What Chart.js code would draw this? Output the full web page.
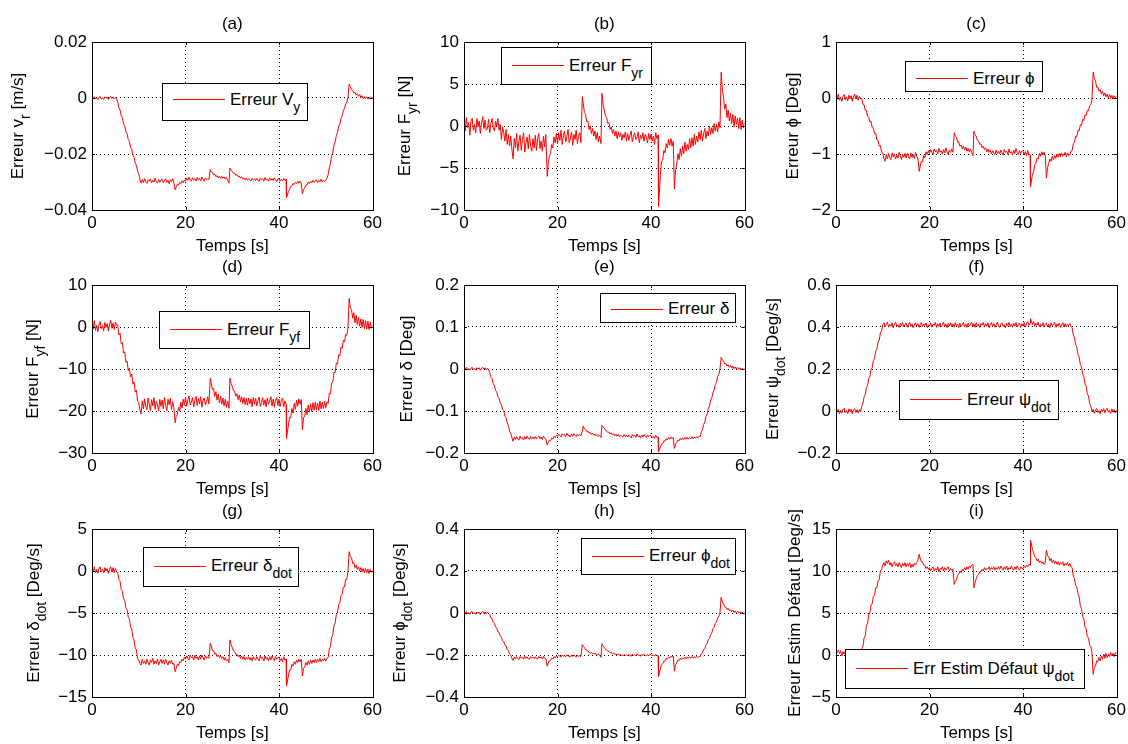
<!DOCTYPE html>
<html><head><meta charset="utf-8">
<script src="https://cdn.jsdelivr.net/npm/chart.js@4.4.1/dist/chart.umd.min.js"></script>
<style>
body{margin:0;background:#fff;width:1128px;height:744px;position:relative;overflow:hidden;font-family:"Liberation Sans",Arial,sans-serif;color:#000;}
canvas{position:absolute;}
.yt{position:absolute;white-space:nowrap;font-size:17px;line-height:20px;transform:translate(-50%,-50%) rotate(-90deg);z-index:3;}
.lg{position:absolute;background:#fff;border:1px solid #000;box-sizing:border-box;z-index:4;}
.lg .ln{position:absolute;left:10px;width:52px;height:0;border-top:1px solid #f00;}
.lg .tx{position:absolute;left:67px;white-space:nowrap;font-size:17px;line-height:20px;}
sub{font-size:14px;line-height:0;vertical-align:-7px;}
</style>
</head><body>

<div class="yt" style="left:18px;top:126px">Erreur v<sub>r</sub> [m/s]</div>
<div class="yt" style="left:405px;top:126px">Erreur F<sub>yr</sub> [N]</div>
<div class="yt" style="left:793px;top:126px">Erreur ϕ [Deg]</div>
<div class="yt" style="left:33px;top:369px">Erreur F<sub>yf</sub> [N]</div>
<div class="yt" style="left:407px;top:369px">Erreur δ [Deg]</div>
<div class="yt" style="left:773px;top:369px">Erreur ψ<sub>dot</sub> [Deg/s]</div>
<div class="yt" style="left:34px;top:613px">Erreur δ<sub>dot</sub> [Deg/s]</div>
<div class="yt" style="left:400px;top:613px">Erreur ϕ<sub>dot</sub> [Deg/s]</div>
<div class="yt" style="left:795px;top:613px">Erreur Estim Défaut [Deg/s]</div>

<div class="lg" style="left:162px;top:83px;width:146px;height:38px"><div class="ln" style="top:14.8px"></div><div class="tx" style="top:5.5px">Erreur V<sub>y</sub></div></div>
<div class="lg" style="left:501px;top:47px;width:151px;height:38px"><div class="ln" style="top:17.2px"></div><div class="tx" style="top:7.9px">Erreur F<sub>yr</sub></div></div>
<div class="lg" style="left:905px;top:61px;width:138px;height:31px"><div class="ln" style="top:15.8px"></div><div class="tx" style="top:6.5px">Erreur ϕ</div></div>
<div class="lg" style="left:159px;top:311px;width:151px;height:38px"><div class="ln" style="top:16.8px"></div><div class="tx" style="top:7.5px">Erreur F<sub>yf</sub></div></div>
<div class="lg" style="left:600px;top:293px;width:136px;height:30px"><div class="ln" style="top:14.5px"></div><div class="tx" style="top:5.2px">Erreur δ</div></div>
<div class="lg" style="left:899px;top:380px;width:160px;height:40px"><div class="ln" style="top:17.8px"></div><div class="tx" style="top:8.5px">Erreur ψ<sub>dot</sub></div></div>
<div class="lg" style="left:143px;top:547px;width:156px;height:40px"><div class="ln" style="top:17.5px"></div><div class="tx" style="top:8.2px">Erreur δ<sub>dot</sub></div></div>
<div class="lg" style="left:581px;top:538px;width:155px;height:37px"><div class="ln" style="top:16.5px"></div><div class="tx" style="top:7.2px">Erreur ϕ<sub>dot</sub></div></div>
<div class="lg" style="left:845px;top:649px;width:240px;height:40px"><div class="ln" style="top:18.2px"></div><div class="tx" style="top:8.9px">Err Estim Défaut ψ<sub>dot</sub></div></div>

<script>
// ---------------- DATA ----------------
const time = [
0,0.25,0.5,0.75,1,1.25,1.5,1.75,2,2.25,2.5,2.75,3,3.25,3.5,3.75,4,4.25,4.5,4.75,
5,5.25,5.5,5.75,6,6.25,6.5,6.75,7,7.25,7.5,7.75,8,8.25,8.5,8.75,9,9.25,9.5,9.75,
10,10.25,10.5,10.75,11,11.25,11.5,11.75,12,12.25,12.5,12.75,13,13.25,13.5,13.75,14,14.25,14.5,14.75,
15,15.25,15.5,15.75,16,16.25,16.5,16.75,17,17.25,17.5,17.8,18,18.25,18.5,18.75,19,19.25,19.5,19.75,
20,20.25,20.5,20.75,21,21.25,21.5,21.75,22,22.25,22.5,22.75,23,23.25,23.5,23.75,24,24.25,24.5,24.75,
25,25.3,25.5,25.75,26,26.25,26.5,26.75,27,27.25,27.5,27.75,28,28.25,28.5,28.75,29,29.3,29.5,29.75,
30,30.25,30.5,30.75,31,31.25,31.5,31.75,32,32.25,32.5,32.75,33,33.25,33.5,33.75,34,34.25,34.5,34.75,
35,35.25,35.5,35.75,36,36.25,36.5,36.75,37,37.25,37.5,37.75,38,38.25,38.5,38.75,39,39.25,39.5,39.75,
40,40.25,40.5,40.75,41,41.25,41.5,41.6,42,42.25,42.5,42.75,43,43.25,43.5,43.75,44,44.25,44.5,44.75,
45,45.25,45.5,45.75,46,46.25,46.5,46.75,47,47.25,47.5,47.75,48,48.25,48.5,48.75,49,49.25,49.5,49.75,
50,50.25,50.5,50.75,51,51.25,51.5,51.75,52,52.25,52.5,52.75,53,53.25,53.5,53.75,54,54.25,54.5,54.75,
55,55.25,55.5,55.75,56,56.25,56.5,56.75,57,57.25,57.5,57.75,58,58.25,58.5,58.75,59,59.25,59.5,59.75,
60];

const errVr = [
0.0003,-0.0002,0.0005,-0.0004,0.0001,-0.0006,0.0002,0.0005,-0.0003,0.0001,-0.0005,0.0004,-0.0001,0.0003,-0.0005,0.0002,0.0006,-0.0002,0.0004,-0.0003,
0.0001,-0.0002,-0.0014,-0.0035,-0.0043,-0.0064,-0.0071,-0.0092,-0.0099,-0.0120,-0.0127,-0.0148,-0.0155,-0.0177,-0.0184,-0.0205,-0.0212,-0.0233,-0.0240,-0.0261,
-0.0270,-0.0290,-0.0304,-0.0291,-0.0302,-0.0288,-0.0299,-0.0305,-0.0292,-0.0297,-0.0289,-0.0303,-0.0294,-0.0300,-0.0287,-0.0298,-0.0304,-0.0291,-0.0301,-0.0293,
-0.0290,-0.0303,-0.0295,-0.0289,-0.0301,-0.0294,-0.0306,-0.0292,-0.0299,-0.0288,-0.0302,-0.0328,-0.0318,-0.0308,-0.0311,-0.0301,-0.0305,-0.0296,-0.0302,-0.0293,
-0.0298,-0.0286,-0.0294,-0.0283,-0.0292,-0.0297,-0.0285,-0.0291,-0.0288,-0.0296,-0.0284,-0.0293,-0.0287,-0.0295,-0.0282,-0.0290,-0.0297,-0.0286,-0.0292,-0.0288,
-0.0291,-0.0255,-0.0264,-0.0266,-0.0275,-0.0272,-0.0281,-0.0277,-0.0285,-0.0279,-0.0287,-0.0280,-0.0286,-0.0282,-0.0289,-0.0283,-0.0293,-0.0304,-0.0250,-0.0258,
-0.0262,-0.0269,-0.0268,-0.0276,-0.0274,-0.0281,-0.0279,-0.0286,-0.0282,-0.0289,-0.0285,-0.0292,-0.0286,-0.0294,-0.0288,-0.0291,-0.0296,-0.0287,-0.0293,-0.0289,
-0.0295,-0.0287,-0.0293,-0.0298,-0.0286,-0.0292,-0.0289,-0.0296,-0.0284,-0.0293,-0.0290,-0.0297,-0.0286,-0.0294,-0.0288,-0.0295,-0.0285,-0.0292,-0.0298,-0.0289,
-0.0288,-0.0296,-0.0290,-0.0297,-0.0287,-0.0294,-0.0291,-0.0356,-0.0334,-0.0327,-0.0316,-0.0314,-0.0305,-0.0309,-0.0301,-0.0306,-0.0298,-0.0304,-0.0297,-0.0303,
-0.0342,-0.0327,-0.0321,-0.0311,-0.0310,-0.0300,-0.0306,-0.0297,-0.0303,-0.0294,-0.0301,-0.0296,-0.0292,-0.0302,-0.0295,-0.0299,-0.0290,-0.0300,-0.0294,-0.0298,
-0.0295,-0.0286,-0.0274,-0.0249,-0.0232,-0.0207,-0.0193,-0.0169,-0.0157,-0.0135,-0.0124,-0.0103,-0.0093,-0.0073,-0.0064,-0.0046,-0.0038,-0.0021,-0.0014,0.0002,
0.0050,0.0041,0.0030,0.0028,0.0018,0.0020,0.0011,0.0016,0.0006,0.0012,0.0002,0.0008,-0.0002,0.0005,-0.0003,0.0004,-0.0004,0.0002,-0.0002,0.0003,
0.0000];

const errFyr = [
0.8,-0.6,1.0,-0.2,0.4,-1.1,0.6,0.9,-0.5,0.2,-0.8,0.9,-0.1,0.6,-0.9,0.4,1.1,-0.3,0.7,-0.5,
-0.3,0.8,-0.8,0.3,0.9,-0.2,-0.6,0.6,0.0,0.9,-0.5,0.2,-1.6,-0.1,-0.8,-1.8,-0.4,-2.2,-1.0,-2.4,
-1.2,-2.8,-3.9,-1.5,-2.6,-0.9,-3.0,-1.8,-1.1,-2.9,-1.6,-0.8,-3.1,-2.0,-1.3,-2.7,-1.0,-2.4,-3.0,-1.5,
-2.6,-1.1,-2.9,-1.5,-0.9,-2.7,-1.8,-3.0,-1.2,-2.5,-1.0,-6.0,-4.6,-3.6,-3.3,-2.2,-2.6,-1.3,-2.0,-0.9,
-2.1,-0.8,-1.7,-0.5,-2.2,-1.1,-0.6,-1.9,-1.3,-0.4,-2.0,-1.5,-0.7,-2.3,-1.0,-1.6,-0.5,-2.1,-1.2,-0.8,
-2.0,3.5,2.7,1.6,1.4,0.5,0.6,-0.4,0.0,-0.9,-0.3,-1.2,-0.6,-1.6,-0.8,-1.9,-1.2,-2.1,3.9,2.6,
1.9,1.2,1.0,0.3,0.4,-0.4,-0.1,-0.9,-0.4,-1.2,-0.6,-1.5,-0.7,-1.3,-0.8,-1.7,-1.0,-1.4,-0.7,-1.8,
-0.9,-1.7,-1.1,-0.6,-1.9,-1.2,-0.8,-1.6,-1.4,-0.7,-2.0,-1.1,-1.5,-0.8,-1.8,-1.0,-1.3,-2.0,-0.9,-1.6,
-1.0,-1.8,-1.2,-2.2,-0.8,-1.5,-1.1,-9.6,-5.8,-4.2,-4.1,-2.9,-3.2,-2.1,-2.6,-1.6,-2.3,-1.5,-2.4,-1.8,
-7.5,-5.2,-4.6,-3.3,-4.0,-2.7,-3.6,-2.4,-3.3,-1.9,-3.0,-2.2,-2.8,-1.5,-2.6,-1.4,-2.4,-1.0,-2.2,-1.2,
-1.9,-0.7,-1.6,-0.5,-1.8,-0.9,-0.3,-1.5,-0.6,-1.2,0.0,-1.0,-0.2,-0.9,0.3,-0.6,0.2,-0.7,0.5,-0.2,
6.4,4.4,3.4,2.0,2.6,1.0,1.9,0.6,1.5,0.3,1.4,-0.1,1.2,0.2,0.9,-0.3,1.0,-0.4,0.7,-0.2,
0.4];

const errPhi = [
0.05,-0.02,0.07,-0.04,0.01,-0.06,0.03,0.06,-0.03,0.02,-0.05,0.05,-0.01,0.04,-0.06,0.02,0.07,-0.02,0.05,-0.04,
0.03,-0.01,-0.01,-0.11,-0.12,-0.22,-0.22,-0.33,-0.34,-0.43,-0.42,-0.53,-0.54,-0.64,-0.63,-0.75,-0.76,-0.86,-0.85,-0.97,
-0.98,-1.08,-1.13,-1.01,-1.09,-0.99,-1.07,-1.10,-0.98,-1.05,-1.00,-1.09,-1.02,-1.07,-0.97,-1.04,-1.10,-1.00,-1.06,-0.99,
-1.07,-0.99,-1.05,-1.09,-0.98,-1.06,-1.01,-1.08,-0.97,-1.04,-1.07,-1.31,-1.22,-1.13,-1.14,-1.03,-1.07,-0.96,-1.01,-0.94,
-0.99,-0.92,-0.97,-1.01,-0.91,-0.96,-0.93,-1.00,-0.90,-0.97,-0.94,-1.00,-0.92,-0.98,-0.89,-0.96,-1.01,-0.93,-0.97,-0.91,
-0.97,-0.62,-0.68,-0.70,-0.79,-0.78,-0.86,-0.84,-0.91,-0.86,-0.93,-0.88,-0.95,-0.90,-0.96,-0.91,-0.97,-1.03,-0.59,-0.65,
-0.69,-0.76,-0.77,-0.83,-0.82,-0.89,-0.86,-0.92,-0.89,-0.96,-0.91,-0.97,-0.93,-1.00,-0.94,-0.98,-1.01,-0.93,-0.99,-0.95,
-1.00,-0.93,-0.98,-1.02,-0.92,-0.97,-0.95,-1.01,-0.91,-0.98,-0.96,-1.02,-0.93,-0.99,-0.90,-0.97,-1.01,-0.94,-0.99,-0.95,
-0.95,-1.01,-0.96,-1.03,-0.94,-1.00,-1.02,-1.58,-1.38,-1.32,-1.19,-1.17,-1.07,-1.09,-0.99,-1.04,-0.96,-1.02,-0.97,-1.03,
-1.43,-1.24,-1.17,-1.09,-1.13,-1.04,-1.10,-1.02,-1.08,-1.00,-1.06,-0.99,-1.05,-0.98,-1.04,-1.00,-0.97,-1.05,-0.98,-1.03,
-1.02,-0.95,-0.94,-0.82,-0.79,-0.68,-0.69,-0.58,-0.59,-0.48,-0.49,-0.38,-0.40,-0.30,-0.31,-0.22,-0.23,-0.14,-0.12,-0.02,
0.46,0.35,0.30,0.19,0.20,0.12,0.15,0.07,0.12,0.04,0.09,0.02,0.07,0.0,0.06,-0.01,0.05,-0.02,0.04,0.0,
0.03];

const errFyf = [
1.0,-0.5,1.5,-0.8,0.4,-1.1,0.7,1.3,-0.4,0.3,-0.9,1.1,-0.1,0.8,-1.0,0.5,1.6,-0.3,0.9,-0.6,
1.2,0.4,0.5,-1.9,-1.5,-4.0,-3.7,-6.2,-5.9,-8.4,-8.1,-10.4,-9.8,-11.9,-11.2,-13.6,-13.1,-15.5,-15.0,-17.6,
-18.0,-19.8,-20.7,-17.6,-19.5,-17.1,-18.9,-19.7,-16.9,-18.4,-19.9,-17.3,-18.8,-16.8,-19.6,-17.7,-18.5,-20.0,-17.2,-18.9,
-17.4,-19.5,-16.8,-18.7,-19.9,-17.2,-18.5,-16.9,-19.6,-17.8,-19.2,-22.8,-21.3,-20.9,-19.1,-20.0,-17.9,-19.3,-17.2,-18.6,
-16.7,-18.9,-17.3,-16.4,-18.6,-17.9,-16.8,-19.0,-17.5,-16.5,-18.7,-17.0,-18.3,-16.6,-19.1,-17.4,-16.9,-18.5,-17.8,-16.6,
-18.3,-12.2,-13.3,-14.9,-14.6,-16.5,-15.4,-17.4,-16.0,-18.1,-16.5,-18.4,-16.9,-18.8,-17.2,-19.1,-17.6,-19.4,-12.2,-13.5,
-14.1,-15.2,-15.3,-16.5,-15.9,-17.3,-16.2,-17.8,-16.6,-18.2,-16.8,-18.5,-17.0,-18.6,-16.9,-18.3,-17.1,-19.0,-16.8,-18.4,
-17.0,-18.8,-17.5,-16.7,-18.9,-17.9,-16.8,-18.6,-17.3,-19.0,-16.9,-18.4,-17.6,-16.6,-18.8,-17.2,-19.1,-17.4,-16.8,-18.7,
-17.2,-18.9,-17.5,-16.9,-19.0,-17.6,-18.4,-26.5,-23.4,-21.5,-21.6,-19.4,-20.5,-18.2,-19.6,-17.4,-18.9,-17.1,-18.4,-17.3,
-24.5,-21.6,-21.2,-19.4,-20.9,-18.6,-20.3,-18.3,-20.1,-18.0,-19.8,-17.9,-19.7,-18.1,-19.9,-17.6,-19.5,-17.9,-19.4,-17.7,
-19.2,-17.8,-18.2,-15.8,-15.9,-13.3,-13.2,-10.8,-10.9,-8.6,-8.8,-6.6,-6.9,-4.8,-5.1,-3.2,-3.6,-1.8,-2.0,-0.1,
6.8,4.6,4.2,2.1,3.4,1.0,2.8,0.6,2.3,0.2,1.9,-0.1,1.8,-0.4,1.5,-0.5,1.4,-0.6,1.2,-0.3,
0.5];

const errDelta = [
0.003,-0.001,0.004,-0.002,0.001,-0.003,0.002,0.004,-0.002,0.001,-0.003,0.003,0.000,0.003,-0.003,0.002,0.004,-0.001,0.003,-0.002,
0.002,-0.002,-0.008,-0.020,-0.023,-0.035,-0.039,-0.051,-0.055,-0.066,-0.069,-0.081,-0.085,-0.096,-0.099,-0.112,-0.116,-0.129,-0.134,-0.148,
-0.153,-0.164,-0.172,-0.162,-0.168,-0.161,-0.167,-0.169,-0.160,-0.166,-0.163,-0.169,-0.161,-0.167,-0.160,-0.165,-0.168,-0.161,-0.166,-0.162,
-0.166,-0.161,-0.167,-0.163,-0.160,-0.166,-0.162,-0.168,-0.160,-0.165,-0.167,-0.181,-0.175,-0.170,-0.171,-0.164,-0.167,-0.160,-0.163,-0.158,
-0.160,-0.155,-0.159,-0.162,-0.154,-0.158,-0.156,-0.161,-0.153,-0.159,-0.157,-0.162,-0.155,-0.160,-0.154,-0.158,-0.161,-0.155,-0.159,-0.156,
-0.159,-0.148,-0.136,-0.142,-0.144,-0.149,-0.148,-0.153,-0.151,-0.156,-0.153,-0.158,-0.155,-0.159,-0.156,-0.160,-0.158,-0.163,-0.134,-0.138,
-0.141,-0.146,-0.147,-0.151,-0.150,-0.155,-0.152,-0.157,-0.154,-0.159,-0.155,-0.160,-0.156,-0.161,-0.157,-0.160,-0.162,-0.156,-0.161,-0.157,
-0.162,-0.157,-0.161,-0.164,-0.156,-0.160,-0.158,-0.163,-0.155,-0.161,-0.159,-0.164,-0.157,-0.162,-0.156,-0.160,-0.163,-0.157,-0.161,-0.158,
-0.159,-0.164,-0.160,-0.165,-0.158,-0.163,-0.162,-0.197,-0.186,-0.179,-0.178,-0.171,-0.172,-0.166,-0.169,-0.163,-0.167,-0.162,-0.166,-0.163,
-0.189,-0.178,-0.175,-0.169,-0.171,-0.165,-0.169,-0.164,-0.168,-0.163,-0.167,-0.162,-0.167,-0.163,-0.166,-0.161,-0.166,-0.162,-0.165,-0.161,
-0.164,-0.160,-0.161,-0.150,-0.145,-0.132,-0.126,-0.113,-0.107,-0.094,-0.088,-0.074,-0.069,-0.056,-0.050,-0.037,-0.032,-0.018,-0.013,0.000,
0.028,0.022,0.019,0.012,0.013,0.007,0.010,0.004,0.008,0.002,0.007,0.001,0.005,0.000,0.004,-0.001,0.003,-0.002,0.002,-0.001,
0.001];

const errPsiDot = [
0.012,-0.006,0.009,-0.013,0.003,-0.010,0.007,0.013,-0.008,0.002,-0.012,0.010,-0.003,0.008,-0.014,0.005,0.011,-0.007,0.006,-0.010,
0.006,-0.004,0.022,0.034,0.067,0.078,0.111,0.121,0.154,0.164,0.198,0.207,0.241,0.251,0.285,0.295,0.329,0.338,0.372,0.382,
0.410,0.420,0.401,0.415,0.423,0.399,0.412,0.404,0.419,0.397,0.414,0.422,0.402,0.410,0.398,0.417,0.405,0.421,0.400,0.413,
0.418,0.399,0.411,0.423,0.402,0.415,0.397,0.409,0.420,0.404,0.416,0.398,0.412,0.421,0.400,0.414,0.406,0.419,0.397,0.411,
0.404,0.420,0.399,0.413,0.408,0.422,0.398,0.415,0.403,0.418,0.401,0.411,0.423,0.400,0.414,0.397,0.417,0.405,0.420,0.402,
0.415,0.399,0.421,0.406,0.412,0.397,0.418,0.403,0.410,0.422,0.400,0.414,0.398,0.419,0.405,0.411,0.423,0.401,0.416,0.399,
0.420,0.404,0.413,0.398,0.417,0.409,0.422,0.400,0.415,0.403,0.419,0.397,0.412,0.421,0.402,0.416,0.399,0.410,0.423,0.405,
0.398,0.414,0.420,0.403,0.411,0.397,0.418,0.406,0.422,0.401,0.413,0.399,0.417,0.404,0.421,0.400,0.412,0.419,0.398,0.415,
0.405,0.421,0.400,0.416,0.425,0.408,0.419,0.440,0.412,0.426,0.403,0.418,0.409,0.422,0.400,0.415,0.404,0.420,0.399,0.413,
0.418,0.401,0.414,0.397,0.420,0.406,0.412,0.423,0.399,0.415,0.404,0.419,0.398,0.411,0.421,0.402,0.416,0.400,0.413,0.407,
0.416,0.403,0.396,0.362,0.351,0.316,0.304,0.269,0.258,0.222,0.211,0.176,0.164,0.129,0.118,0.082,0.071,0.036,0.024,-0.003,
0.008,-0.011,0.004,0.012,-0.007,0.002,-0.013,0.009,-0.004,0.011,-0.009,0.006,0.013,-0.005,0.003,-0.012,0.010,-0.006,0.007,-0.010,
0.004];

const errDeltaDot = [
0.4,-0.1,0.5,-0.2,0.2,-0.3,0.3,0.5,-0.1,0.2,-0.2,0.4,0.0,0.3,-0.3,0.2,0.5,-0.1,0.4,-0.2,
0.3,-0.1,-0.2,-1.0,-1.2,-2.2,-2.4,-3.3,-3.5,-4.4,-4.6,-5.5,-5.7,-6.7,-6.9,-7.9,-8.2,-9.2,-9.4,-10.4,
-10.6,-11.0,-11.2,-10.5,-11.0,-10.7,-11.1,-10.5,-10.9,-11.2,-10.6,-10.9,-10.4,-11.1,-10.7,-11.0,-10.5,-11.2,-10.8,-10.5,
-11.0,-10.6,-11.1,-10.5,-10.9,-11.2,-10.7,-11.0,-10.6,-11.1,-11.0,-12.0,-11.6,-11.1,-11.3,-10.8,-10.9,-10.5,-10.7,-10.3,
-10.5,-10.1,-10.4,-10.6,-10.0,-10.3,-10.2,-10.6,-10.0,-10.4,-10.2,-10.6,-10.1,-10.5,-10.0,-10.3,-10.6,-10.1,-10.4,-10.2,
-10.4,-8.6,-8.9,-9.5,-9.5,-9.9,-9.8,-10.2,-10.0,-10.3,-10.1,-10.4,-10.2,-10.6,-10.3,-10.7,-10.5,-10.9,-8.2,-8.8,
-9.1,-9.5,-9.6,-9.9,-9.9,-10.2,-10.0,-10.4,-10.1,-10.5,-10.2,-10.6,-10.3,-10.5,-10.2,-10.6,-10.3,-10.7,-10.2,-10.5,
-10.6,-10.2,-10.5,-10.7,-10.1,-10.4,-10.3,-10.7,-10.1,-10.5,-10.3,-10.7,-10.2,-10.6,-10.1,-10.4,-10.7,-10.2,-10.5,-10.3,
-10.3,-10.7,-10.4,-10.8,-10.2,-10.6,-10.5,-13.7,-12.5,-11.8,-11.8,-11.1,-11.3,-10.8,-11.1,-10.6,-10.9,-10.5,-10.8,-10.5,
-12.5,-11.6,-11.4,-10.9,-11.2,-10.7,-11.1,-10.6,-11.0,-10.6,-10.9,-10.5,-10.9,-10.5,-10.8,-10.4,-10.8,-10.5,-10.7,-10.4,
-10.7,-10.4,-10.3,-9.3,-9.0,-7.9,-7.6,-6.5,-6.2,-5.2,-5.0,-4.0,-3.8,-2.9,-2.8,-1.9,-1.9,-1.0,-1.0,0.0,
2.3,1.7,1.6,0.9,1.0,0.4,0.7,0.2,0.5,0.0,0.4,-0.1,0.3,-0.2,0.3,-0.2,0.2,-0.3,0.2,-0.1,
-0.2];

const errPhiDot = [
0.006,-0.003,0.008,-0.005,0.002,-0.006,0.004,0.007,-0.004,0.001,-0.006,0.005,-0.001,0.004,-0.007,0.003,0.008,-0.002,0.005,-0.004,
0.004,-0.002,-0.007,-0.024,-0.027,-0.045,-0.049,-0.067,-0.071,-0.089,-0.092,-0.110,-0.114,-0.132,-0.136,-0.153,-0.157,-0.175,-0.179,-0.196,
-0.201,-0.216,-0.226,-0.209,-0.219,-0.208,-0.217,-0.221,-0.207,-0.215,-0.211,-0.220,-0.206,-0.216,-0.209,-0.218,-0.221,-0.208,-0.215,-0.210,
-0.217,-0.208,-0.216,-0.220,-0.207,-0.214,-0.210,-0.219,-0.206,-0.215,-0.218,-0.254,-0.240,-0.228,-0.227,-0.215,-0.219,-0.208,-0.213,-0.205,
-0.208,-0.201,-0.206,-0.210,-0.200,-0.205,-0.203,-0.209,-0.199,-0.206,-0.204,-0.210,-0.201,-0.207,-0.200,-0.205,-0.209,-0.202,-0.206,-0.203,
-0.207,-0.150,-0.159,-0.164,-0.175,-0.176,-0.184,-0.184,-0.191,-0.188,-0.194,-0.191,-0.197,-0.193,-0.200,-0.195,-0.203,-0.211,-0.146,-0.156,
-0.164,-0.172,-0.175,-0.182,-0.183,-0.189,-0.187,-0.195,-0.191,-0.198,-0.193,-0.200,-0.195,-0.202,-0.196,-0.201,-0.204,-0.197,-0.202,-0.199,
-0.204,-0.197,-0.202,-0.206,-0.196,-0.201,-0.199,-0.205,-0.195,-0.202,-0.200,-0.206,-0.197,-0.203,-0.196,-0.201,-0.205,-0.198,-0.202,-0.199,
-0.198,-0.204,-0.199,-0.206,-0.197,-0.203,-0.204,-0.302,-0.265,-0.247,-0.242,-0.229,-0.228,-0.216,-0.220,-0.210,-0.214,-0.206,-0.211,-0.205,
-0.277,-0.246,-0.238,-0.224,-0.227,-0.216,-0.222,-0.213,-0.219,-0.211,-0.218,-0.209,-0.216,-0.210,-0.215,-0.207,-0.214,-0.208,-0.213,-0.206,
-0.213,-0.207,-0.208,-0.194,-0.190,-0.174,-0.170,-0.152,-0.145,-0.127,-0.121,-0.102,-0.095,-0.075,-0.068,-0.049,-0.043,-0.023,-0.015,0.001,
0.075,0.053,0.044,0.030,0.028,0.017,0.022,0.011,0.016,0.006,0.013,0.003,0.010,0.001,0.008,-0.001,0.006,-0.002,0.004,-0.003,
0.001];

const errEstim = [
0.0,0.3,0.6,0.2,0.5,-0.1,0.4,0.1,0.5,-0.2,0.3,0.1,0.4,-0.1,0.3,0.0,0.4,0.2,0.5,0.1,
0.3,-0.1,0.7,1.0,2.0,2.3,3.5,3.8,4.8,5.0,6.0,6.1,7.0,7.1,8.0,8.0,8.8,9.0,10.0,10.2,
10.7,11.0,10.6,11.2,10.9,11.3,10.7,11.0,10.5,10.9,11.1,10.6,10.9,10.5,11.0,10.7,10.4,10.9,10.6,11.0,
10.5,10.9,10.6,11.0,10.4,10.8,10.5,10.9,10.7,11.0,11.3,12.0,11.5,11.1,11.1,10.7,10.7,10.3,10.5,10.2,
10.4,10.0,10.3,10.5,10.0,10.3,10.1,10.5,9.9,10.3,10.2,10.5,10.0,10.4,10.1,10.3,10.5,10.0,10.3,10.1,
10.2,8.4,8.8,8.9,9.5,9.6,10.0,9.8,10.2,10.0,10.4,10.1,10.5,10.2,10.6,10.4,10.7,10.8,8.0,8.6,
9.1,9.5,9.6,9.9,9.9,10.2,10.0,10.4,10.1,10.3,10.2,10.5,10.1,10.4,10.2,10.5,10.1,10.4,10.2,10.5,
10.2,10.6,10.3,10.1,10.5,10.2,10.6,10.1,10.4,10.2,10.6,10.3,10.1,10.5,10.2,10.6,10.3,10.1,10.5,10.3,
10.3,10.6,10.4,10.7,10.5,10.8,10.7,13.7,12.6,12.2,11.7,11.6,11.2,11.4,11.0,11.2,10.9,11.1,10.8,11.0,
12.5,11.8,11.7,11.2,11.5,11.0,11.3,10.9,11.2,10.8,11.1,10.7,11.0,10.8,11.1,10.6,10.9,10.7,11.0,10.6,
10.9,10.5,10.4,9.4,9.1,8.3,8.1,7.3,6.9,5.9,5.5,4.6,4.3,3.4,3.1,2.2,2.0,1.2,1.0,0.2,
-2.3,-1.5,-1.3,-0.7,-0.8,-0.3,-0.7,-0.1,-0.5,0.1,-0.4,0.2,-0.3,0.1,-0.2,0.3,-0.1,0.2,-0.2,0.3,
0.1];

const xTicks = [0,20,40,60];
const yTicksA = [-0.04,-0.02,0,0.02];
const yTicksB = [-10,-5,0,5,10];
const yTicksC = [-2,-1,0,1];
const yTicksD = [-30,-20,-10,0,10];
const yTicksE = [-0.2,-0.1,0,0.1,0.2];
const yTicksF = [-0.2,0,0.2,0.4,0.6];
const yTicksG = [-15,-10,-5,0,5];
const yTicksH = [-0.4,-0.2,0,0.2,0.4];
const yTicksI = [-5,0,5,10,15];
const panelTitles = ['(a)','(b)','(c)','(d)','(e)','(f)','(g)','(h)','(i)'];
const xLabel = 'Temps [s]';

// ---------------- LAYOUT ----------------
const colLeft = [92,464,836];
const rowTop = [42,285,529];
const PW = 281, PH = 168, YAX = 92, PADR = 12, TOPH = 40, XAXH = 50;

const panels = [
  {s:errVr, t:yTicksA}, {s:errFyr, t:yTicksB}, {s:errPhi, t:yTicksC},
  {s:errFyf, t:yTicksD}, {s:errDelta, t:yTicksE}, {s:errPsiDot, t:yTicksF},
  {s:errDeltaDot, t:yTicksG}, {s:errPhiDot, t:yTicksH}, {s:errEstim, t:yTicksI}
];

Chart.defaults.font.family = '"Liberation Sans", Arial, sans-serif';
Chart.defaults.font.size = 17;
Chart.defaults.color = '#000';

const framePlugin = {
  id:'frame',
  afterDraw(chart){
    const {ctx, chartArea:a, scales:{x,y}} = chart;
    ctx.save();
    ctx.strokeStyle = '#000';
    ctx.lineWidth = 1;
    ctx.beginPath();
    x.ticks.forEach(t => {
      const p = Math.round(x.getPixelForValue(t.value)) + 0.5;
      ctx.moveTo(p, a.bottom); ctx.lineTo(p, a.bottom - 3);
      ctx.moveTo(p, a.top); ctx.lineTo(p, a.top + 3);
    });
    y.ticks.forEach(t => {
      const p = Math.round(y.getPixelForValue(t.value)) + 0.5;
      ctx.moveTo(a.left, p); ctx.lineTo(a.left + 3, p);
      ctx.moveTo(a.right, p); ctx.lineTo(a.right - 3, p);
    });
    ctx.stroke();
    ctx.strokeRect(Math.round(a.left) + 0.5, Math.round(a.top) + 0.5, Math.round(a.width), Math.round(a.height));
    ctx.restore();
  }
};

const fmt = v => String(v).replace('-', '\u2212');
const bad = [];

panels.forEach((p, i) => {
  if (p.s.length !== time.length) bad.push(panelTitles[i] + ':' + p.s.length);
  const L = colLeft[i % 3], T = rowTop[Math.floor(i / 3)];
  const cv = document.createElement('canvas');
  cv.width = YAX + PW + PADR; cv.height = TOPH + PH + XAXH;
  cv.style.left = (L - YAX) + 'px'; cv.style.top = (T - TOPH) + 'px';
  cv.style.width = cv.width + 'px'; cv.style.height = cv.height + 'px';
  document.body.appendChild(cv);
  const ymin = p.t[0], ymax = p.t[p.t.length - 1];
  new Chart(cv, {
    type:'line',
    data:{ datasets:[{ data: p.s.map((v, k) => ({x: time[k], y: v})), borderColor:'#ff0000', borderWidth:1, pointRadius:0, tension:0, fill:false }] },
    options:{
      responsive:false, animation:false, devicePixelRatio:1,
      layout:{ padding:{left:0, right:PADR, top:0, bottom:0} },
      plugins:{
        legend:{display:false}, tooltip:{enabled:false},
        title:{ display:true, text:panelTitles[i], fullSize:false, color:'#000', font:{size:17, weight:'normal'}, padding:{top:11.8, bottom:7.8} }
      },
      scales:{
        x:{ type:'linear', min:0, max:60,
            afterBuildTicks: s => { s.ticks = xTicks.map(v => ({value:v})); },
            afterFit: s => { s.height = XAXH; },
            grid:{ drawTicks:false, lineWidth:1, color: c => (c.tick && (c.tick.value === 0 || c.tick.value === 60)) ? 'rgba(0,0,0,0)' : '#000' },
            border:{ display:false, dash:[1,3] },
            ticks:{ padding:3, color:'#000', maxRotation:0, autoSkip:false, font:{size:17} },
            title:{ display:true, text:xLabel, color:'#000', font:{size:17}, padding:{top:0, bottom:3.8} } },
        y:{ type:'linear', min:ymin, max:ymax,
            afterBuildTicks: s => { s.ticks = p.t.map(v => ({value:v})); },
            afterFit: s => { s.width = YAX; },
            grid:{ drawTicks:false, lineWidth:1, color: c => (c.tick && (c.tick.value === ymin || c.tick.value === ymax)) ? 'rgba(0,0,0,0)' : '#000' },
            border:{ display:false, dash:[1,3] },
            ticks:{ padding:5, color:'#000', autoSkip:false, font:{size:17}, callback: v => fmt(v) } }
      }
    },
    plugins:[framePlugin]
  });
});
if (bad.length) throw new Error('length mismatch (time ' + time.length + '): ' + bad.join(', '));
</script>
</body></html>
